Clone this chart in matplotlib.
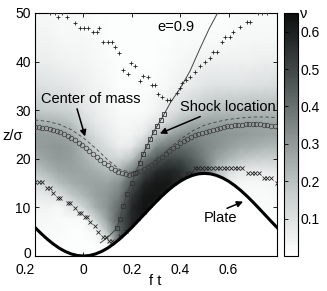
import numpy as np
import matplotlib
matplotlib.use("Agg")
import matplotlib.pyplot as plt
import matplotlib.transforms as mtransforms
from matplotlib.colors import Normalize, LinearSegmentedColormap
from matplotlib.cm import ScalarMappable

plt.rcParams['font.family'] = ['Liberation Sans', 'DejaVu Sans']

# density field nu, one column per time node
field_t = [-0.2, -0.15, -0.1, -0.05, 0.0, 0.05, 0.1, 0.15, 0.2, 0.25, 0.3,
           0.35, 0.4, 0.45, 0.5, 0.55, 0.6, 0.65, 0.7, 0.75, 0.8]
field_z = [0, 2.5, 5, 7.5, 10, 12.5, 15, 17.5, 20, 22.5, 25, 27.5, 30, 35, 40, 45, 50]
field_cols = [
    [2, 2, 2, 3, 4, 7, 12, 19, 25, 29, 29, 25, 18, 11, 6, 4, 3],
    [2, 2, 2, 3, 4, 8, 15, 23, 28, 30, 29, 24, 17, 10, 6, 4, 3],
    [1, 1, 2, 2, 3, 10, 21, 27, 30, 31, 28, 23, 16, 9, 5, 3, 2],
    [1, 1, 1, 2, 8, 18, 25, 28, 29, 29, 26, 20, 14, 8, 4, 3, 2],
    [1, 1, 1, 2, 14, 23, 27, 27, 25, 23, 18, 13, 9, 6, 4, 3, 2],
    [1, 1, 3, 14, 25, 28, 28, 25, 20, 16, 12, 8, 6, 4, 3, 2, 1],
    [3, 3, 20, 29, 32, 31, 28, 22, 16, 11, 7, 5, 4, 3, 2, 1, 1],
    [44, 44, 44, 46, 42, 37, 32, 24, 14, 6, 4, 3, 2, 1, 1, 1, 1],
    [58, 58, 58, 58, 58, 54, 46, 36, 20, 8, 4, 3, 2, 1, 1, 1, 1],
    [63, 63, 63, 63, 63, 62, 58, 49, 37, 20, 8, 4, 2, 1, 1, 1, 1],
    [63, 63, 63, 63, 63, 63, 62, 57, 46, 34, 20, 9, 4, 2, 1, 1, 1],
    [62, 62, 62, 62, 62, 62, 62, 59, 50, 39, 26, 14, 8, 3, 2, 1, 1],
    [57, 57, 57, 57, 57, 57, 57, 57, 49, 41, 32, 21, 12, 5, 3, 2, 1],
    [49, 49, 49, 49, 49, 49, 49, 49, 44, 39, 34, 25, 16, 7, 4, 2, 1],
    [42, 42, 42, 42, 42, 42, 42, 42, 37, 35, 33, 27, 19, 9, 5, 2, 1],
    [23, 23, 23, 23, 23, 23, 23, 21, 28, 32, 32, 28, 21, 10, 5, 2, 1],
    [5, 5, 5, 5, 5, 5, 5, 12, 23, 29, 31, 28, 21, 10, 5, 2, 1],
    [3, 3, 3, 3, 3, 3, 3, 8, 19, 26, 30, 28, 21, 10, 5, 3, 2],
    [2, 2, 2, 2, 2, 2, 3, 7, 17, 25, 29, 28, 22, 11, 5, 3, 2],
    [2, 2, 2, 2, 2, 2, 3, 7, 16, 23, 28, 27, 22, 11, 6, 3, 2],
    [2, 2, 2, 2, 2, 3, 4, 8, 16, 22, 27, 27, 22, 12, 6, 3, 2],
]

# plate position
plate_t = [-0.2, -0.175, -0.15, -0.125, -0.1, -0.075, -0.05, -0.025, 0.0, 0.025,
           0.05, 0.075, 0.1, 0.125, 0.15, 0.175, 0.2, 0.225, 0.25, 0.275, 0.3,
           0.325, 0.35, 0.375, 0.4, 0.425, 0.45, 0.475, 0.5, 0.525, 0.55, 0.575,
           0.6, 0.625, 0.65, 0.675, 0.7, 0.725, 0.75, 0.775, 0.8]
plate_z = [5.87, 4.64, 3.50, 2.49, 1.62, 0.93, 0.42, 0.10, 0.0, 0.10,
           0.42, 0.93, 1.62, 2.49, 3.50, 4.64, 5.87, 7.17, 8.5, 9.83, 11.13,
           12.36, 13.50, 14.51, 15.38, 16.07, 16.58, 16.90, 17.0, 16.90, 16.58, 16.07,
           15.38, 14.51, 13.50, 12.36, 11.13, 9.83, 8.5, 7.17, 5.87]

# center of mass (circles)
com_t = [-0.2, -0.185, -0.17, -0.155, -0.14, -0.125, -0.11, -0.095, -0.08, -0.065,
         -0.05, -0.035, -0.02, -0.005, 0.01, 0.025, 0.04, 0.055, 0.07, 0.085,
         0.1, 0.115, 0.13, 0.145, 0.16, 0.175, 0.19, 0.205, 0.22, 0.235,
         0.25, 0.265, 0.28, 0.295, 0.31, 0.325, 0.34, 0.355, 0.37, 0.385,
         0.4, 0.415, 0.43, 0.445, 0.46, 0.475, 0.49, 0.505, 0.52, 0.535,
         0.55, 0.565, 0.58, 0.595, 0.61, 0.625, 0.64, 0.655, 0.67, 0.685,
         0.7, 0.715, 0.73, 0.745, 0.76, 0.775, 0.79]
com_z = [26.6, 26.5, 26.4, 26.25, 26.1, 25.9, 25.7, 25.45, 25.1, 24.7,
         24.3, 23.8, 23.3, 22.8, 22.2, 21.6, 21.0, 20.4, 19.8, 19.2,
         18.7, 18.2, 17.7, 17.3, 17.0, 16.8, 16.7, 16.9, 17.2, 17.5,
         17.9, 18.3, 18.8, 19.3, 19.9, 20.4, 21.0, 21.6, 22.2, 22.7,
         23.2, 23.6, 24.0, 24.4, 24.8, 25.1, 25.4, 25.6, 25.8, 26.0,
         26.2, 26.4, 26.5, 26.7, 26.8, 26.9, 27.0, 27.05, 27.1, 27.15,
         27.2, 27.15, 27.1, 27.0, 26.9, 26.8, 26.7]

# dashed curve just above the center of mass
dash_t = [-0.2, -0.15, -0.1, -0.05, 0.0, 0.05, 0.1, 0.15, 0.2, 0.25, 0.3,
          0.35, 0.4, 0.45, 0.5, 0.55, 0.6, 0.65, 0.7, 0.75, 0.8]
dash_z = [28.0, 27.7, 27.1, 26.0, 24.3, 22.2, 19.8, 17.8, 17.2, 18.0, 19.6,
          21.9, 24.0, 25.7, 26.9, 27.6, 28.1, 28.4, 28.6, 28.6, 28.5]

# shock location (line, squares on the lower part)
shock_t = [0.07, 0.1, 0.138, 0.151, 0.165, 0.18, 0.2, 0.215, 0.232, 0.247, 0.262,
           0.276, 0.29, 0.305, 0.32, 0.335, 0.36, 0.4, 0.44, 0.48, 0.52, 0.56]
shock_z = [2.7, 3.8, 5.7, 7.7, 10.2, 12.8, 15.0, 17.0, 19.2, 21.0, 22.6,
           24.0, 25.5, 26.8, 28.0, 29.3, 31.6, 34.5, 38.0, 42.5, 46.8, 50.5]
shock_sq_t = shock_t[2:16]
shock_sq_z = shock_z[2:16]

# upper boundary (+)
plus_t = [-0.137, -0.117, -0.089, -0.103, -0.068, -0.034, -0.014, 0.003, 0.02,
          0.04, 0.056, 0.066, 0.082, 0.1, 0.118, 0.131, 0.149, 0.195, 0.213,
          0.165, 0.186, 0.234, 0.247, 0.268, 0.282, 0.296, 0.309, 0.323, 0.344,
          0.357, 0.385, 0.399, 0.406, 0.426, 0.44, 0.461, 0.481, 0.502, 0.522,
          0.536, 0.55, 0.571, 0.584, 0.605, 0.619, 0.646, 0.674, 0.687,
          0.72, 0.74, 0.76]
plus_z = [49.9, 49.9, 49.9, 49.1, 49.1, 48.0, 47.0, 47.0, 47.0,
          46.0, 46.0, 47.0, 44.1, 44.1, 44.1, 43.1, 41.7, 39.8, 39.0,
          38.3, 37.4, 36.0, 37.0, 36.8, 35.2, 35.2, 33.3, 32.8, 32.1,
          32.1, 33.5, 34.5, 35.5, 36.2, 36.9, 37.9, 39.0, 39.9, 40.8,
          42.0, 42.0, 44.0, 45.0, 45.0, 46.0, 47.1, 48.1, 48.1,
          49.9, 49.9, 49.9]

# lower boundary (x)
cross_t = [-0.2, -0.185, -0.17, -0.15, -0.14, -0.125, -0.105, -0.095, -0.065, -0.055,
           -0.035, -0.02, -0.008, 0.005, 0.015, 0.028, 0.048, 0.06, 0.08, 0.095,
           0.105, 0.12, 0.15, 0.175, 0.2, 0.225, 0.25, 0.275, 0.3, 0.325, 0.35,
           0.375, 0.4, 0.43, 0.445, 0.46, 0.475, 0.49, 0.505, 0.52, 0.535, 0.55,
           0.565, 0.58, 0.595, 0.61, 0.625, 0.64, 0.655, 0.68, 0.695, 0.71, 0.725,
           0.745, 0.76, 0.775, 0.8]
cross_z = [15.2, 15.2, 15.2, 14.0, 14.0, 13.0, 12.0, 12.0, 11.0, 11.0,
           9.9, 8.8, 8.8, 8.0, 8.0, 7.0, 6.2, 5.0, 4.0, 4.0,
           3.1, 3.1, 4.1, 5.2, 6.5, 7.8, 9.1, 10.4, 11.7, 13.0, 14.1,
           15.1, 16.0, 17.0, 17.0, 18.1, 18.1, 18.1, 18.1, 18.1, 18.1, 18.1,
           18.1, 18.1, 18.1, 18.1, 18.1, 18.1, 18.1, 17.1, 17.1, 17.1, 17.1,
           16.0, 16.0, 16.0, 15.0]

x_ticks = [-0.2, 0.0, 0.2, 0.4, 0.6]
x_ticklabels = ['0.2', '0', '0.2', '0.4', '0.6']
y_ticks = [0, 10, 20, 30, 40, 50]
cbar_ticks = [0.1, 0.2, 0.3, 0.4, 0.5, 0.6]

W, H = 327, 291
fig = plt.figure(figsize=(W / 100, H / 100), dpi=100)
ax = fig.add_axes([35 / W, 35 / H, 242 / W, 243 / H])
cax = fig.add_axes([284 / W, 35 / H, 14 / W, 243 / H])

norm = Normalize(vmin=0, vmax=0.65)
# grey ramp with a faint green-blue tint, white at zero
cmap = LinearSegmentedColormap.from_list(
    'nu', [(0.0, '#ffffff'), (0.25, '#c9d0cf'), (0.5, '#88908f'),
           (0.75, '#444b4b'), (1.0, '#0c0d0d')])

field = np.array(field_cols).T / 100.0
ax.pcolormesh(field_t, field_z, field, shading='gouraud', cmap=cmap, norm=norm,
              zorder=1, rasterized=True)
ax.fill_between(plate_t, -1, plate_z, color='white', zorder=2, lw=0)

ax.plot(dash_t, dash_z, '--', color='#444444', lw=0.6, dashes=(4, 3), zorder=3)
ax.plot(com_t, com_z, 'o', ms=3.3, mfc='none', mec='#3a3a3a', mew=0.5, zorder=4)
ax.plot(shock_t, shock_z, '-', color='#444444', lw=0.7, zorder=4)
ax.plot(shock_sq_t, shock_sq_z, 's', ms=3.2, mfc='none', mec='#333333', mew=0.6, zorder=4)
ax.plot(plus_t, plus_z, '+', ms=3.2, color='#222222', mew=0.6, zorder=4)
ax.plot(cross_t, cross_z, 'x', ms=2.6, color='#222222', mew=0.6, zorder=4)
ax.plot(plate_t, plate_z, '-', color='black', lw=2.2, zorder=5)

txt = dict(fontsize=10.5, color='black', zorder=6)
ax.text(0.383, 47.1, 'e=0.9', ha='center', va='center', **txt)
arrow = dict(arrowstyle='-|>', color='black', lw=1.1, mutation_scale=9,
             shrinkA=0, shrinkB=0)
ax.annotate('Center of mass', xy=(0.007, 24.6), xytext=(0.032, 32.3),
            ha='center', va='center', arrowprops=dict(arrow, relpos=(0.35, 0.0)),
            **txt)
ax.annotate('Shock location', xy=(0.316, 25.2), xytext=(0.597, 30.7),
            ha='center', va='center', arrowprops=dict(arrow, relpos=(0.28, 0.0)),
            **txt)
ax.annotate('Plate', xy=(0.66, 11.2), xytext=(0.566, 7.8),
            ha='center', va='center', arrowprops=dict(arrow, relpos=(0.5, 1.0)),
            **txt)

ax.set_xlim(-0.2, 0.8)
ax.set_ylim(0, 50)
ax.set_xticks(x_ticks)
ax.set_xticklabels(x_ticklabels)
ax.get_xticklabels()[0].set_ha('right')
ax.set_yticks(y_ticks)
ax.tick_params(direction='in', length=3, width=0.6, top=True, right=True,
               labelsize=10)
ax.tick_params(axis='x', pad=5)
ax.tick_params(axis='y', pad=3)
# lift the "0" on the z axis a little so it clears the corner time label
lift = mtransforms.ScaledTranslation(0, 3 / 100, fig.dpi_scale_trans)
zero_lbl = ax.get_yticklabels()[0]
zero_lbl.set_transform(zero_lbl.get_transform() + lift)
for s in ax.spines.values():
    s.set_linewidth(0.8)

fig.text(2 / W, 1 - 136 / H, 'z/σ', fontsize=10.5, ha='left', va='center')
fig.text(155 / W, 1 - 281 / H, 'f t', fontsize=10.5, ha='center', va='center')

cb = fig.colorbar(ScalarMappable(norm=norm, cmap=cmap), cax=cax, ticks=cbar_ticks)
cb.outline.set_linewidth(0.8)
cax.tick_params(direction='in', length=3, width=0.6, left=True, right=False,
                labelsize=10, pad=2)
cax.set_yticklabels(['0.1', '0.2', '0.3', '0.4', '0.5', '0.6'])
fig.text(300 / W, 1 - 14 / H, 'ν', fontsize=10.5, ha='left', va='center')

fig.savefig('out.png', dpi=100)
